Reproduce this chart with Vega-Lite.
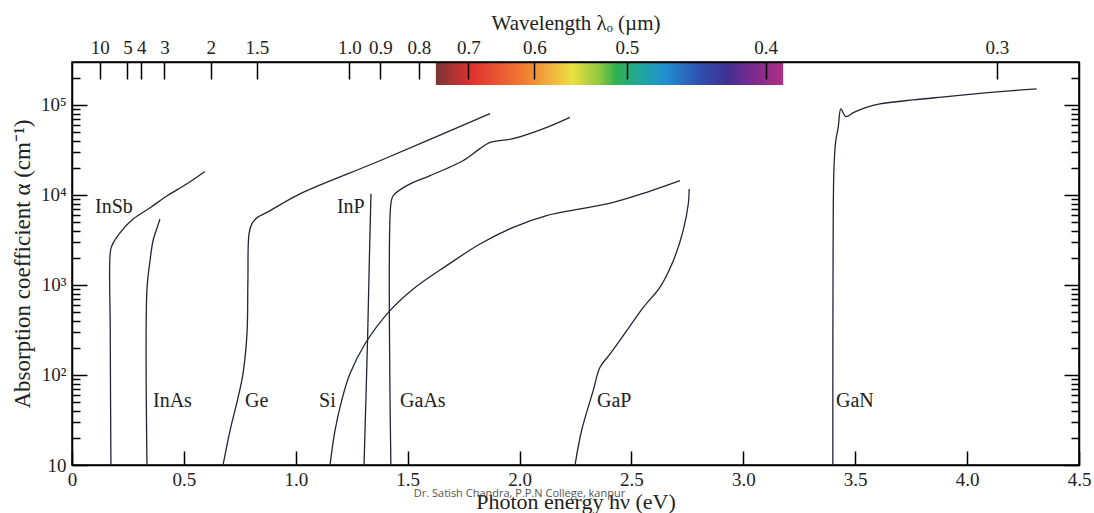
{
  "$schema": "https://vega.github.io/schema/vega-lite/v6.json",
  "width": 1007,
  "height": 403,
  "autosize": {"type": "none"},
  "padding": {"left": 72, "top": 62, "right": 15, "bottom": 48},
  "background": "white",
  "title": {
    "text": "Dr. Satish Chandra, P.P.N College, kanpur",
    "orient": "bottom",
    "font": "Open Sans",
    "fontSize": 11,
    "fontWeight": "normal",
    "color": "#555555",
    "offset": -24,
    "dx": -56
  },
  "config": {
    "view": {"stroke": "black", "strokeWidth": 1.5},
    "font": "Liberation Serif",
    "axis": {
      "grid": false,
      "domainColor": "black",
      "domainWidth": 1.5,
      "tickColor": "black",
      "tickWidth": 1.5,
      "labelFont": "Liberation Serif",
      "labelFontSize": 19,
      "labelColor": "#222222",
      "titleFont": "Liberation Serif",
      "titleFontWeight": "normal",
      "titleColor": "#222222",
      "labelOverlap": false,
      "labelFlush": false
    }
  },
  "datasets": {
    "spectrum": [
      {"E1": 1.626, "E2": 3.178, "a1": 166800, "a2": 300000}
    ],
    "curves": [
      {"m": "InSb", "i": 0, "E": 0.174, "a": 10},
      {"m": "InSb", "i": 1, "E": 0.171, "a": 300},
      {"m": "InSb", "i": 2, "E": 0.172, "a": 2400},
      {"m": "InSb", "i": 3, "E": 0.183, "a": 2900},
      {"m": "InSb", "i": 4, "E": 0.2145, "a": 3800},
      {"m": "InSb", "i": 5, "E": 0.273, "a": 5400},
      {"m": "InSb", "i": 6, "E": 0.349, "a": 7200},
      {"m": "InSb", "i": 7, "E": 0.425, "a": 9800},
      {"m": "InSb", "i": 8, "E": 0.514, "a": 13300},
      {"m": "InSb", "i": 9, "E": 0.594, "a": 18200},
      {"m": "InAs", "i": 0, "E": 0.335, "a": 10},
      {"m": "InAs", "i": 1, "E": 0.335, "a": 900},
      {"m": "InAs", "i": 2, "E": 0.348, "a": 1800},
      {"m": "InAs", "i": 3, "E": 0.362, "a": 3100},
      {"m": "InAs", "i": 4, "E": 0.380, "a": 4300},
      {"m": "InAs", "i": 5, "E": 0.393, "a": 5400},
      {"m": "Ge", "i": 0, "E": 0.675, "a": 10},
      {"m": "Ge", "i": 1, "E": 0.706, "a": 24},
      {"m": "Ge", "i": 2, "E": 0.742, "a": 56},
      {"m": "Ge", "i": 3, "E": 0.764, "a": 103},
      {"m": "Ge", "i": 4, "E": 0.782, "a": 288},
      {"m": "Ge", "i": 5, "E": 0.786, "a": 1100},
      {"m": "Ge", "i": 6, "E": 0.791, "a": 3700},
      {"m": "Ge", "i": 7, "E": 0.804, "a": 4800},
      {"m": "Ge", "i": 8, "E": 0.827, "a": 5600},
      {"m": "Ge", "i": 9, "E": 0.871, "a": 6400},
      {"m": "Ge", "i": 10, "E": 1.019, "a": 10300},
      {"m": "Ge", "i": 11, "E": 1.376, "a": 24000},
      {"m": "Ge", "i": 12, "E": 1.868, "a": 80000},
      {"m": "InP", "i": 0, "E": 1.305, "a": 10},
      {"m": "InP", "i": 1, "E": 1.321, "a": 260},
      {"m": "InP", "i": 2, "E": 1.328, "a": 1570},
      {"m": "InP", "i": 3, "E": 1.336, "a": 10300},
      {"m": "GaAs", "i": 0, "E": 1.425, "a": 10},
      {"m": "GaAs", "i": 1, "E": 1.425, "a": 8000},
      {"m": "GaAs", "i": 2, "E": 1.435, "a": 9800},
      {"m": "GaAs", "i": 3, "E": 1.496, "a": 12700},
      {"m": "GaAs", "i": 4, "E": 1.600, "a": 16400},
      {"m": "GaAs", "i": 5, "E": 1.747, "a": 24000},
      {"m": "GaAs", "i": 6, "E": 1.823, "a": 32700},
      {"m": "GaAs", "i": 7, "E": 1.868, "a": 38400},
      {"m": "GaAs", "i": 8, "E": 1.971, "a": 42200},
      {"m": "GaAs", "i": 9, "E": 2.122, "a": 56400},
      {"m": "GaAs", "i": 10, "E": 2.225, "a": 72800},
      {"m": "Si", "i": 0, "E": 1.153, "a": 10},
      {"m": "Si", "i": 1, "E": 1.175, "a": 24},
      {"m": "Si", "i": 2, "E": 1.205, "a": 52},
      {"m": "Si", "i": 3, "E": 1.242, "a": 103},
      {"m": "Si", "i": 4, "E": 1.309, "a": 221},
      {"m": "Si", "i": 5, "E": 1.421, "a": 518},
      {"m": "Si", "i": 6, "E": 1.525, "a": 903},
      {"m": "Si", "i": 7, "E": 1.674, "a": 1640},
      {"m": "Si", "i": 8, "E": 1.823, "a": 2850},
      {"m": "Si", "i": 9, "E": 1.972, "a": 4370},
      {"m": "Si", "i": 10, "E": 2.121, "a": 5890},
      {"m": "Si", "i": 11, "E": 2.270, "a": 6990},
      {"m": "Si", "i": 12, "E": 2.419, "a": 8280},
      {"m": "Si", "i": 13, "E": 2.568, "a": 10700},
      {"m": "Si", "i": 14, "E": 2.717, "a": 14400},
      {"m": "GaP", "i": 0, "E": 2.248, "a": 10},
      {"m": "GaP", "i": 1, "E": 2.277, "a": 24},
      {"m": "GaP", "i": 2, "E": 2.329, "a": 67},
      {"m": "GaP", "i": 3, "E": 2.359, "a": 121},
      {"m": "GaP", "i": 4, "E": 2.404, "a": 171},
      {"m": "GaP", "i": 5, "E": 2.479, "a": 311},
      {"m": "GaP", "i": 6, "E": 2.553, "a": 564},
      {"m": "GaP", "i": 7, "E": 2.627, "a": 940},
      {"m": "GaP", "i": 8, "E": 2.687, "a": 1860},
      {"m": "GaP", "i": 9, "E": 2.731, "a": 4010},
      {"m": "GaP", "i": 10, "E": 2.754, "a": 7940},
      {"m": "GaP", "i": 11, "E": 2.758, "a": 11660},
      {"m": "GaN", "i": 0, "E": 3.400, "a": 10},
      {"m": "GaN", "i": 1, "E": 3.401, "a": 2000},
      {"m": "GaN", "i": 2, "E": 3.405, "a": 20000},
      {"m": "GaN", "i": 3, "E": 3.413, "a": 40000},
      {"m": "GaN", "i": 4, "E": 3.424, "a": 56400},
      {"m": "GaN", "i": 5, "E": 3.436, "a": 90300},
      {"m": "GaN", "i": 6, "E": 3.458, "a": 74100},
      {"m": "GaN", "i": 7, "E": 3.494, "a": 82800},
      {"m": "GaN", "i": 8, "E": 3.55, "a": 94000},
      {"m": "GaN", "i": 9, "E": 3.61, "a": 102600},
      {"m": "GaN", "i": 10, "E": 3.758, "a": 113700},
      {"m": "GaN", "i": 11, "E": 3.908, "a": 123700},
      {"m": "GaN", "i": 12, "E": 4.057, "a": 134600},
      {"m": "GaN", "i": 13, "E": 4.205, "a": 144200},
      {"m": "GaN", "i": 14, "E": 4.311, "a": 150600}
    ],
    "labels": [
      {"label": "InSb", "E": 0.103, "a": 7410},
      {"label": "InAs", "E": 0.362, "a": 52},
      {"label": "Ge", "E": 0.773, "a": 52},
      {"label": "Si", "E": 1.104, "a": 52},
      {"label": "InP", "E": 1.184, "a": 7410},
      {"label": "GaAs", "E": 1.466, "a": 52},
      {"label": "GaP", "E": 2.346, "a": 52},
      {"label": "GaN", "E": 3.414, "a": 52}
    ]
  },
  "layer": [
    {
      "data": {"name": "spectrum"},
      "mark": {
        "type": "rect",
        "fill": {
          "gradient": "linear",
          "x1": 0, "x2": 1, "y1": 0, "y2": 0,
          "stops": [
            {"offset": 0, "color": "#7a3535"},
            {"offset": 0.1, "color": "#e03030"},
            {"offset": 0.25, "color": "#f07a30"},
            {"offset": 0.35, "color": "#f0c040"},
            {"offset": 0.395, "color": "#e8e040"},
            {"offset": 0.47, "color": "#90c840"},
            {"offset": 0.52, "color": "#30b050"},
            {"offset": 0.59, "color": "#20a8a0"},
            {"offset": 0.66, "color": "#2090d0"},
            {"offset": 0.76, "color": "#3050b0"},
            {"offset": 0.84, "color": "#403090"},
            {"offset": 0.91, "color": "#7a2a90"},
            {"offset": 1, "color": "#b03080"}
          ]
        }
      },
      "encoding": {
        "x": {
          "field": "E1", "type": "quantitative",
          "scale": {"domain": [0, 4.5], "nice": false, "zero": false},
          "axis": {
            "orient": "top",
            "values": [0.12398, 0.24796, 0.30995, 0.413267, 0.6199, 0.826533, 1.2398, 1.377556, 1.54975, 1.771143, 2.066333, 2.4796, 3.0995, 4.132667],
            "labelExpr": "1.2398/datum.value >= 1.9 ? format(1.2398/datum.value, '.0f') : format(1.2398/datum.value, '.1f')",
            "tickSize": -17,
            "labelPadding": 22,
            "title": "Wavelength λₒ (µm)",
            "titleFontSize": 21,
            "titlePadding": 5,
            "zindex": 1
          }
        },
        "x2": {"field": "E2"},
        "y": {
          "field": "a1", "type": "quantitative",
          "scale": {"type": "log", "domain": [10, 300000], "nice": false},
          "axis": {
            "orient": "right",
            "values": [10, 20, 30, 40, 50, 60, 70, 80, 90, 100, 200, 300, 400, 500, 600, 700, 800, 900, 1000, 2000, 3000, 4000, 5000, 6000, 7000, 8000, 9000, 10000, 20000, 30000, 40000, 50000, 60000, 70000, 80000, 90000, 100000, 200000],
            "labels": false,
            "tickSize": {"condition": {"test": "indexof([10,100,1000,10000,100000], datum.value) >= 0", "value": -15}, "value": -8},
            "title": null,
            "zindex": 1
          }
        },
        "y2": {"field": "a2"}
      }
    },
    {
      "data": {"name": "curves"},
      "mark": {"type": "line", "color": "#222633", "strokeWidth": 1.3, "clip": true, "interpolate": "catmull-rom"},
      "encoding": {
        "x": {
          "field": "E", "type": "quantitative",
          "scale": {"domain": [0, 4.5], "nice": false, "zero": false},
          "axis": {
            "orient": "bottom",
            "values": [0, 0.5, 1, 1.5, 2, 2.5, 3, 3.5, 4, 4.5],
            "labelExpr": "datum.value == 0 ? '0' : format(datum.value, '.1f')",
            "tickSize": -14,
            "labelPadding": 19,
            "title": "Photon energy hν (eV)",
            "titleFontSize": 22,
            "titlePadding": 2
          }
        },
        "y": {
          "field": "a", "type": "quantitative",
          "scale": {"type": "log", "domain": [10, 300000], "nice": false},
          "axis": {
            "orient": "left",
            "values": [10, 20, 30, 40, 50, 60, 70, 80, 90, 100, 200, 300, 400, 500, 600, 700, 800, 900, 1000, 2000, 3000, 4000, 5000, 6000, 7000, 8000, 9000, 10000, 20000, 30000, 40000, 50000, 60000, 70000, 80000, 90000, 100000, 200000],
            "labelExpr": "datum.value == 10 ? '10' : datum.value == 100 ? '10²' : datum.value == 1000 ? '10³' : datum.value == 10000 ? '10⁴' : datum.value == 100000 ? '10⁵' : ''",
            "tickSize": {"condition": {"test": "indexof([10,100,1000,10000,100000], datum.value) >= 0", "value": -15}, "value": -8},
            "labelPadding": 21,
            "title": "Absorption coefficient α (cm⁻¹)",
            "titleFontSize": 23,
            "titlePadding": 6
          }
        },
        "detail": {"field": "m"},
        "order": {"field": "i", "type": "quantitative"}
      }
    },
    {
      "data": {"name": "labels"},
      "mark": {"type": "text", "align": "left", "baseline": "middle", "fontSize": 20, "font": "Liberation Serif", "color": "#222222"},
      "encoding": {
        "x": {"field": "E", "type": "quantitative", "scale": {"domain": [0, 4.5], "nice": false, "zero": false}, "axis": null},
        "y": {"field": "a", "type": "quantitative", "scale": {"type": "log", "domain": [10, 300000], "nice": false}, "axis": null},
        "text": {"field": "label"}
      }
    }
  ],
  "resolve": {"axis": {"x": "independent", "y": "independent"}}
}
